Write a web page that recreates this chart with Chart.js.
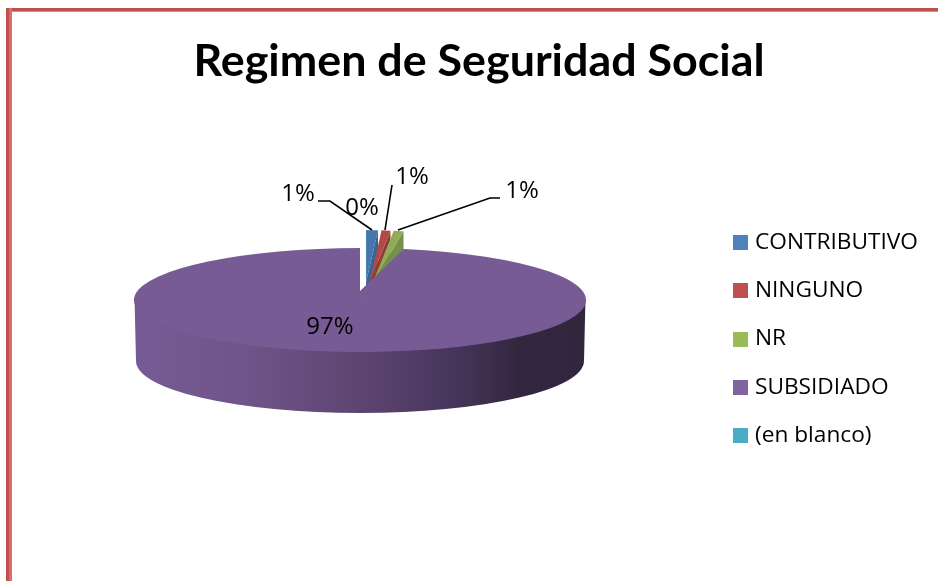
<!DOCTYPE html>
<html><head><meta charset="utf-8">
<script src="https://cdn.jsdelivr.net/npm/chart.js@4"></script>
<style>
html,body{margin:0;padding:0;background:#fff;overflow:hidden}
#wrap{position:relative;width:938px;height:581px}
canvas{position:absolute;left:0;top:0}
#bt{position:absolute;left:6px;top:8px;right:0;height:3px;background:#c0504d;border-bottom:1px solid #dd8a88}
#bl{position:absolute;left:6px;top:8px;bottom:0;width:3px;background:#c0504d;border-right:3px solid #d56f6c}
</style></head><body>
<div id="wrap"><div id="bt"></div><div id="bl"></div><canvas id="c" width="938" height="581"></canvas></div>
<script>
const categories = ['CONTRIBUTIVO','NINGUNO','NR','SUBSIDIADO','(en blanco)'];
const values = [1.2,0.9,1.0,96.9,0];
const topColors = ['#4676ae','#b14a47','#8fad52','#765b95','#46a5bd'];
const wallColors = ['#3a6492','#8f3b39','#75904a','#5d4570','#3a8aa0'];
const legendColors = ['#4f81bd','#c0504d','#9bbb59','#8064a2','#4bacc6'];
const percentLabels = values.map(v=>Math.round(v)+'%');
const labelSpots = [[298,194],[412,177],[522,191],[330,327],[362,208]];
const leaders = [[[318,201],[330,201],[372,230]],[[392,185],[385,230]],[[500,198],[490,198],[398,230]]];

const TILT=0.23, CX=360, CY=300, DEPTH=61, APEX_RISE=9, SMALL_X=364, SMALL_SCALE=0.7, EXPLODE=78;
const TITLE_FONT='Lato, sans-serif', TEXT_FONT='"Open Sans", sans-serif';

function applyView(ctx,arc,tx,sx){ctx.translate(tx,CY);ctx.scale(sx,TILT);ctx.translate(-arc.x,-arc.y);}

const pie3d={id:'pie3d',
 beforeDatasetsDraw(chart){
  const ctx=chart.ctx, arcs=chart.getDatasetMeta(0).data;
  const main=arcs.reduce((a,b)=>b.circumference>a.circumference?b:a);
  arcs.forEach((arc,i)=>{
    if(arc===main||!values[i])return;
    const h=(arc.startAngle+arc.endAngle)/2,e=arc.endAngle,R=arc.outerRadius;
    const px=arc.x+Math.cos(e)*R, py=arc.y+Math.sin(e)*R, d=DEPTH/TILT;
    ctx.save();applyView(ctx,arc,SMALL_X,SMALL_SCALE);
    ctx.translate(Math.cos(h)*EXPLODE,Math.sin(h)*EXPLODE);
    ctx.fillStyle=wallColors[i];ctx.beginPath();
    ctx.moveTo(arc.x,arc.y);ctx.lineTo(px,py);ctx.lineTo(px,py+d);ctx.lineTo(arc.x,arc.y+d);ctx.closePath();ctx.fill();
    arc.draw(ctx);ctx.restore();
  });
  const R=main.outerRadius, ry=R*TILT;
  const g=ctx.createLinearGradient(CX-R,0,CX+R,0);
  g.addColorStop(0,'#775b95');g.addColorStop(0.25,'#6f5489');g.addColorStop(0.5,'#5d4571');
  g.addColorStop(0.72,'#45345a');g.addColorStop(0.85,'#33273f');g.addColorStop(1,'#30263d');
  ctx.fillStyle=g;ctx.beginPath();
  ctx.ellipse(CX,CY-3,R-0.5,ry,0,0,Math.PI);
  ctx.ellipse(CX,CY+DEPTH,R-2,ry,0,Math.PI,0,true);
  ctx.closePath();ctx.fill();
  ctx.save();applyView(ctx,main,CX,1);main.draw(ctx);ctx.restore();
  const sa=main.startAngle;
  ctx.fillStyle=topColors[3];ctx.beginPath();
  ctx.moveTo(CX,CY+1);ctx.lineTo(CX,CY-APEX_RISE);
  ctx.lineTo(CX+Math.cos(sa)*R,CY+Math.sin(sa)*ry);ctx.closePath();ctx.fill();
  return false;
 },
 afterDraw(chart){
  const ctx=chart.ctx;ctx.save();
  ctx.strokeStyle='#000';ctx.lineWidth=1.6;
  leaders.forEach(l=>{ctx.beginPath();l.forEach((p,i)=>i?ctx.lineTo(p[0],p[1]):ctx.moveTo(p[0],p[1]));ctx.stroke();});
  ctx.fillStyle='#000';ctx.font='24px '+TEXT_FONT;ctx.textAlign='center';ctx.textBaseline='middle';
  percentLabels.forEach((t,i)=>ctx.fillText(t,labelSpots[i][0],labelSpots[i][1]));
  chart.legend.legendHitBoxes.forEach((b,i)=>{
    ctx.fillStyle=legendColors[i];
    ctx.fillRect(Math.round(b.left),Math.round(b.top+b.height/2-7.5),15,15);
  });
  ctx.restore();
 }};

new Chart(document.getElementById('c'),{
 type:'pie',
 data:{labels:categories,datasets:[{data:values,backgroundColor:topColors,borderWidth:0,radius:226}]},
 options:{responsive:false,animation:false,
  layout:{padding:{left:30,right:10,top:35,bottom:-62}},
  plugins:{
   tooltip:{enabled:false},
   title:{display:true,text:'Regimen de Seguridad Social',color:'#000',font:{family:TITLE_FONT,size:44.8,weight:'bold'},padding:{top:0,bottom:0}},
   legend:{position:'right',labels:{boxWidth:11,boxHeight:15,padding:25.5,color:'#000',font:{family:TEXT_FONT,size:22.7},
     generateLabels:()=>categories.map((t,i)=>({text:t,fillStyle:'rgba(0,0,0,0)',strokeStyle:'rgba(0,0,0,0)',lineWidth:0,hidden:false,index:i,fontColor:'#000'}))}}
  }},
 plugins:[pie3d]
});
</script></body></html>
